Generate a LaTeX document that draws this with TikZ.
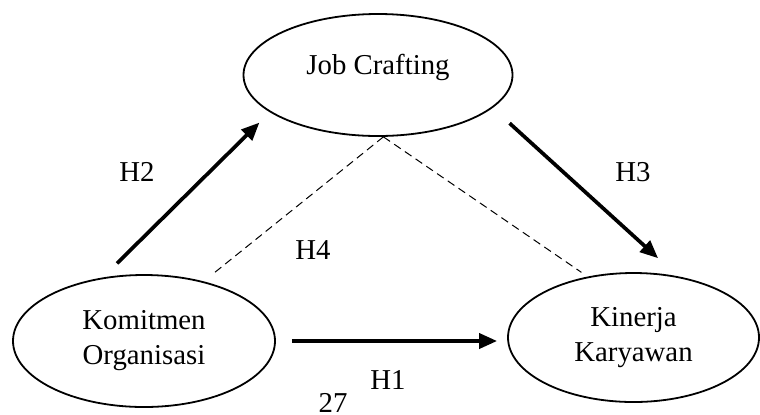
\documentclass[tikz,border=0pt]{standalone}
\usepackage{fontspec}
\setmainfont{Liberation Serif}
\usetikzlibrary{shapes.geometric,arrows.meta}
\begin{document}
\begin{tikzpicture}[x=0.5pt,y=-0.5pt,
  every node/.style={font=\fontsize{14.4pt}{17.5pt}\selectfont},
  var/.style={ellipse,draw,line width=0.9pt,align=center,inner sep=0pt},
  hyp/.style={line width=1.85pt,-{Triangle[length=9pt,width=7.5pt]}},
  med/.style={line width=0.5pt,dash pattern=on 4pt off 2.5pt}]
\useasboundingbox (0,0) rectangle (760,414);
% Constructs
\node[var,minimum width=134.5pt,minimum height=61pt] (job) at (378,75) {\raisebox{3.75pt}[\height][\depth]{Job Crafting}};
\node[var,minimum width=131pt,minimum height=66pt] (kom) at (144,341) {Komitmen\\Organisasi};
\node[var,minimum width=125.5pt,minimum height=64.5pt] (kin) at (633.5,337.5) {Kinerja\\Karyawan};
% Direct paths
\draw[hyp,shorten <=10pt,shorten >=7.35pt] (kom.123) -- (job.199);
\draw[hyp,shorten <=11.4pt,shorten >=13.45pt] (job.-16.7) -- (kin.54.3);
\draw[hyp,shorten <=8pt,shorten >=5pt] (kom.east) -- (kom.east -| kin.west);
% Mediation (dashed)
\draw[med,shorten >=6.25pt] (job.-85) -- (kom.45);
\draw[med,shorten >=3.75pt] (job.-85) -- (kin.127);
% Hypothesis labels
\foreach \h/\x/\y in {H1/388/380,H2/137/172,H3/633/172,H4/313/250}
  \node (\h) at (\x,\y) {\h};
\node[anchor=base,inner sep=0pt] (pg) at (333,412) {27};
\end{tikzpicture}
\end{document}
